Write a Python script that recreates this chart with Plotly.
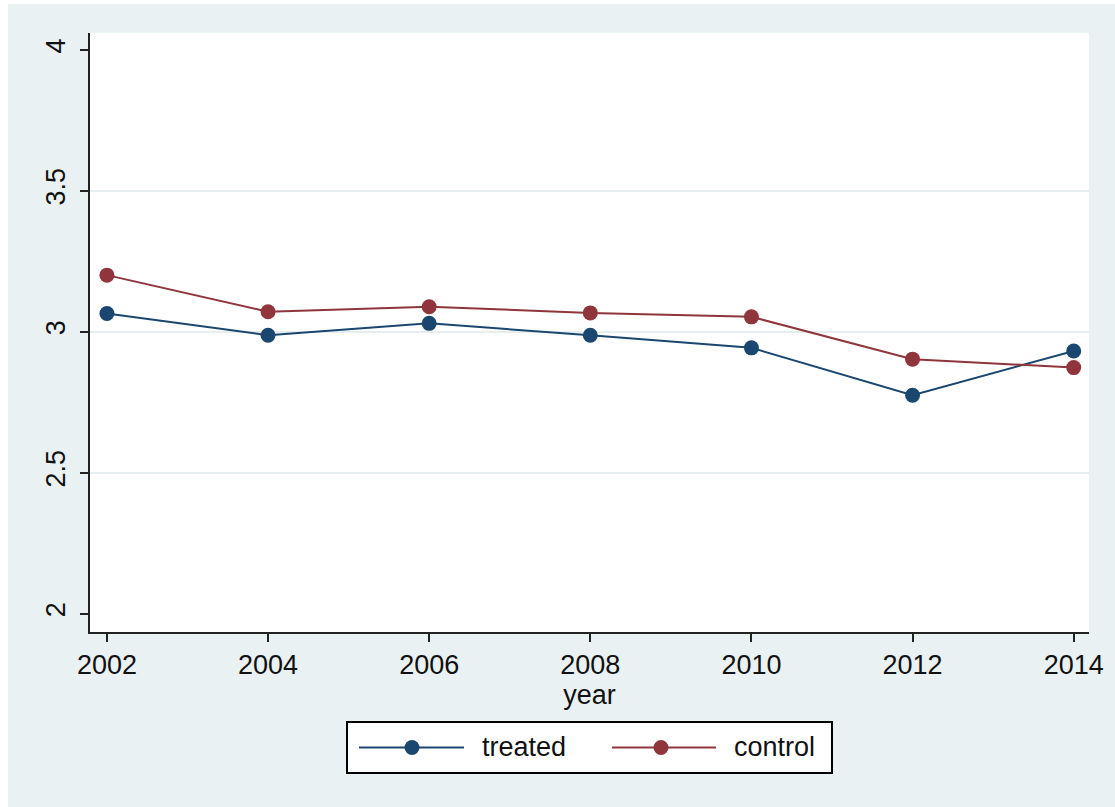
import plotly.graph_objects as go

# Mean outcome by survey year for the two groups
years = [2002, 2004, 2006, 2008, 2010, 2012, 2014]
treated = [3.065, 2.988, 3.030, 2.988, 2.943, 2.775, 2.932]
control = [3.201, 3.071, 3.089, 3.067, 3.053, 2.903, 2.873]

y_ticks = [2, 2.5, 3, 3.5, 4]
y_ticklabels = ["2", "2.5", "3", "3.5", "4"]
grid_vals = [2.5, 3, 3.5]

NAVY = "#1A476F"
MAROON = "#90353B"
BG = "#EAF1F3"
FONT = "Arial, Liberation Sans, sans-serif"
FS = 27

W, H = 1115, 807
ML, MR, MT, MB = 90, 26, 33, 175
PW, PH = W - ML - MR, H - MT - MB


def px(x):
    return (x - ML) / PW


def py(y):
    return (H - MB - y) / PH


fig = go.Figure()
fig.add_trace(go.Scatter(x=years, y=treated, mode="lines+markers", name="treated",
                         line=dict(color=NAVY, width=2),
                         marker=dict(color=NAVY, size=15, symbol="circle")))
fig.add_trace(go.Scatter(x=years, y=control, mode="lines+markers", name="control",
                         line=dict(color=MAROON, width=2),
                         marker=dict(color=MAROON, size=15, symbol="circle")))

shapes = [
    # white frame strips around the graph region
    dict(type="rect", xref="paper", yref="paper", x0=px(0), x1=px(W), y0=py(0), y1=py(4),
         fillcolor="white", line=dict(width=0), layer="below"),
    dict(type="rect", xref="paper", yref="paper", x0=px(0), x1=px(8), y0=py(H), y1=py(0),
         fillcolor="white", line=dict(width=0), layer="below"),
    # legend box
    dict(type="rect", xref="paper", yref="paper", x0=px(347), x1=px(832), y0=py(773), y1=py(722),
         fillcolor="white", line=dict(color="black", width=2)),
]
annotations = []

legend_items = [("treated", NAVY, 359, 464, 412, 480), ("control", MAROON, 612, 716, 661, 732)]
ly = 747.5
r = 7.5
for label, col, x0, x1, xm, xt in legend_items:
    shapes.append(dict(type="line", xref="paper", yref="paper", x0=px(x0), x1=px(x1),
                       y0=py(ly), y1=py(ly), line=dict(color=col, width=2)))
    shapes.append(dict(type="circle", xref="paper", yref="paper", x0=px(xm - r), x1=px(xm + r),
                       y0=py(ly + r), y1=py(ly - r), fillcolor=col, line=dict(color=col, width=0)))
    annotations.append(dict(text=label, xref="paper", yref="paper", x=px(xt), y=py(ly),
                            xanchor="left", yanchor="middle", showarrow=False,
                            font=dict(family=FONT, size=FS, color="#111")))

fig.add_trace(go.Scatter(x=[years[0]], y=[grid_vals[0]], yaxis="y2", mode="markers",
                         marker=dict(opacity=0), showlegend=False, hoverinfo="skip"))

fig.update_layout(
    width=W, height=H,
    margin=dict(l=ML, r=MR, t=MT, b=MB, pad=0),
    paper_bgcolor=BG, plot_bgcolor="white",
    showlegend=False,
    font=dict(family=FONT, size=FS, color="#111"),
    xaxis=dict(range=[2001.79, 2014.19], tickvals=years, ticktext=[str(y) for y in years],
               showgrid=False, zeroline=False, showline=True, linecolor="#222", linewidth=2,
               ticks="outside", ticklen=8, tickwidth=2, tickcolor="#222",
               tickfont=dict(size=FS),
               title=dict(text="year", font=dict(size=FS), standoff=0)),
    yaxis=dict(range=[1.935, 4.06], tickvals=y_ticks, ticktext=y_ticklabels, tickangle=-90,
               showgrid=False, zeroline=False, showline=True, linecolor="#222", linewidth=2,
               ticks="outside", ticklen=8, tickwidth=2, tickcolor="#222",
               tickfont=dict(size=FS), ticklabelstandoff=4),
    yaxis2=dict(range=[1.935, 4.06], overlaying="y", tickvals=grid_vals, showticklabels=False,
                showgrid=True, gridcolor="#E6EEF0", gridwidth=1.5, zeroline=False, showline=False),
    shapes=shapes,
    annotations=annotations,
)

fig.write_html("out.html")
